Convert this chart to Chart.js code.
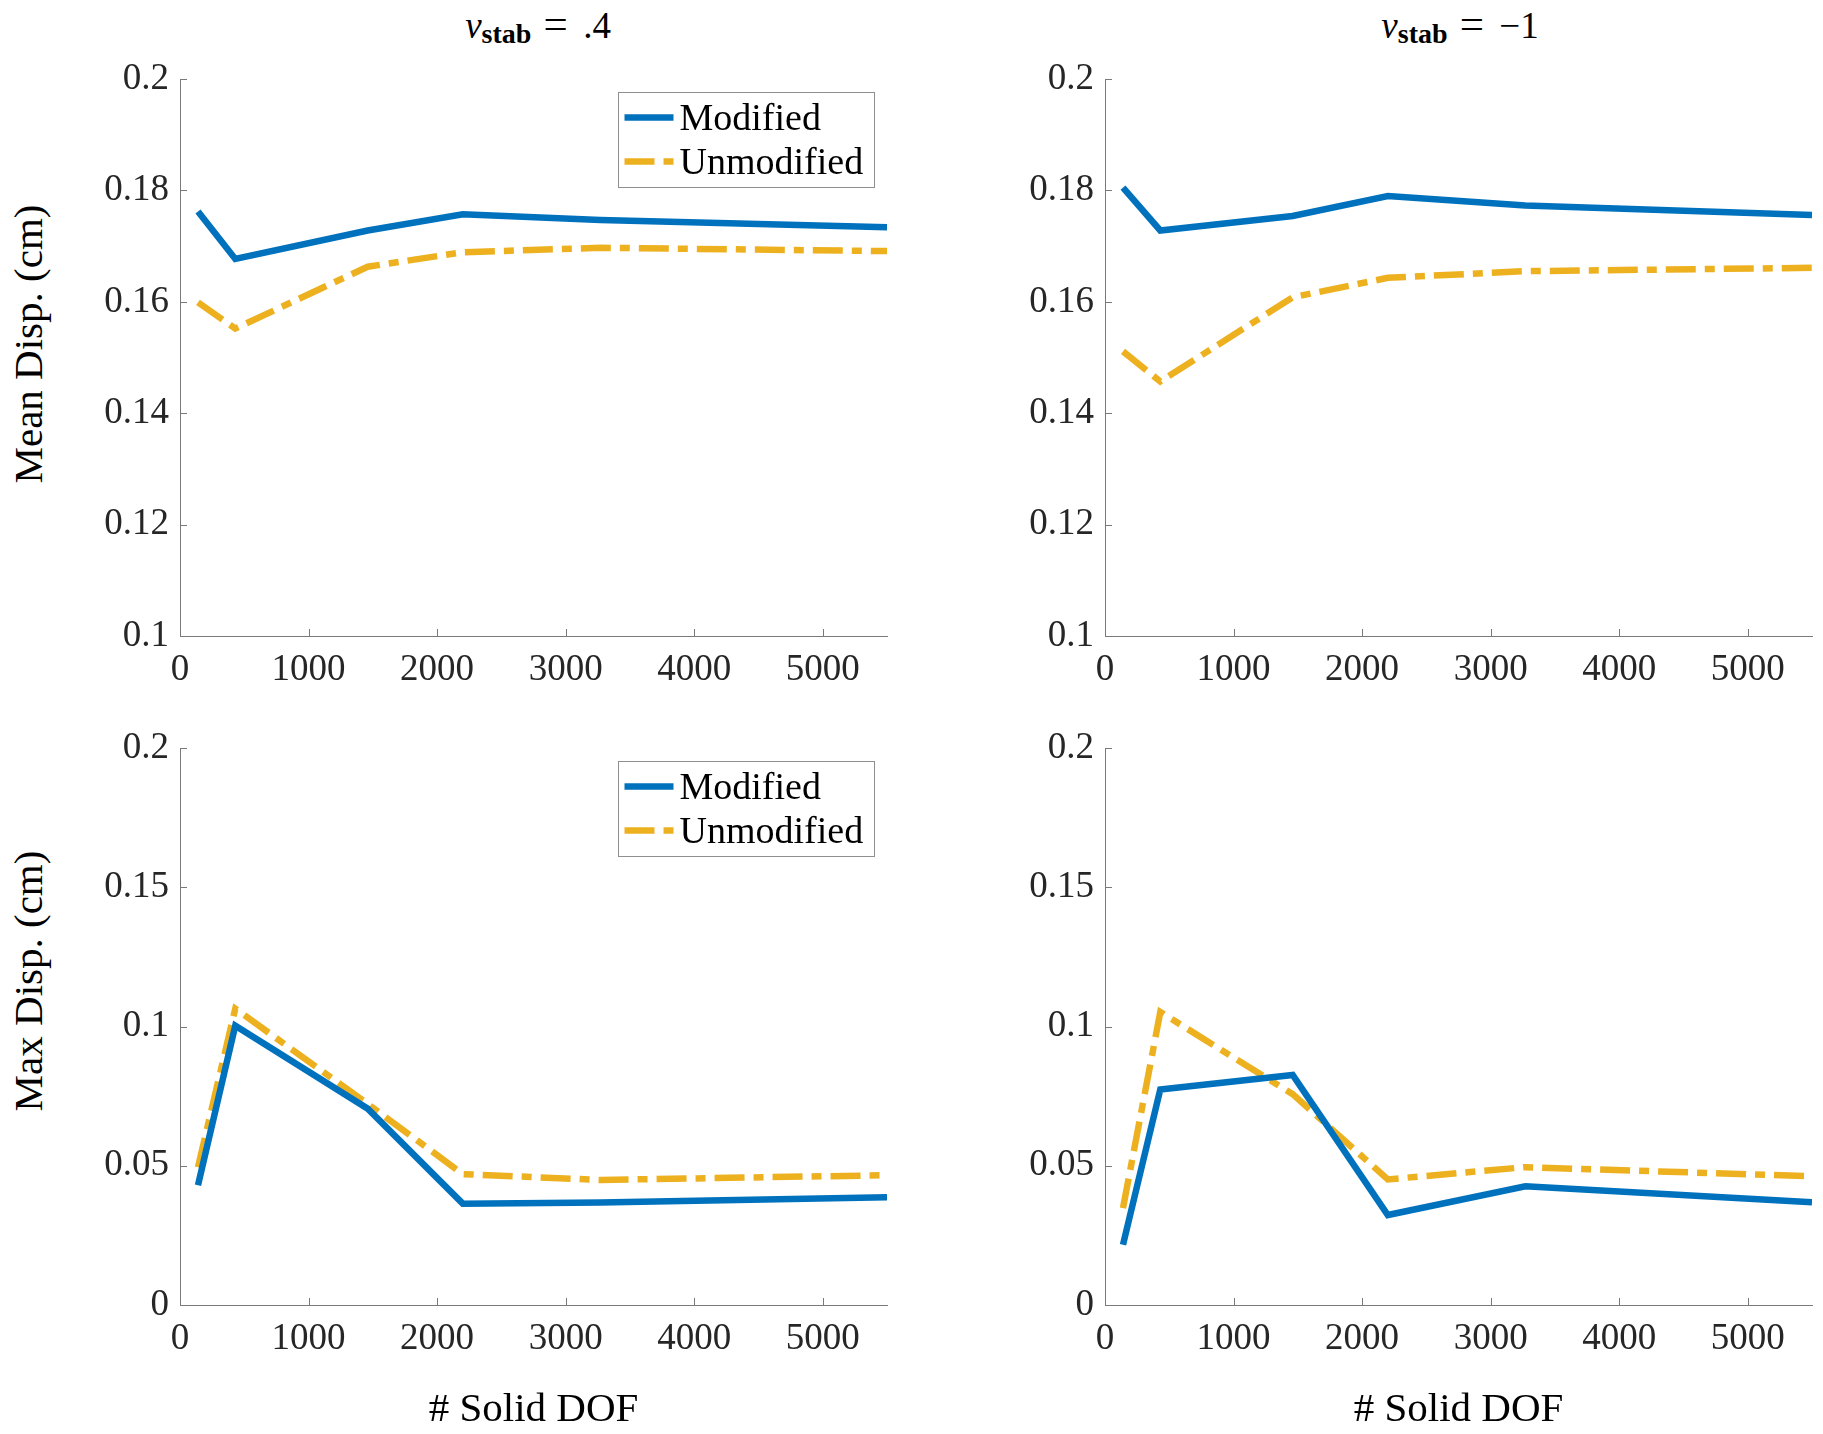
<!DOCTYPE html>
<html>
<head>
<meta charset="utf-8">
<script src="https://cdn.jsdelivr.net/npm/chart.js@4.4.1/dist/chart.umd.min.js"></script>
<style>
  body { margin: 0; background: #fff; width: 1823px; height: 1434px; position: relative; overflow: hidden;
         font-family: 'Liberation Serif', 'Times New Roman', serif; }
  .panel { position: absolute; }
  .title { position: absolute; top: 4px; font-size: 37px; line-height: 40px; color: #000;
           white-space: nowrap; transform: translateX(-50%); }
  .title sub { font-size: 28px; font-weight: bold; vertical-align: -5px; line-height: 0; }
  .title .eq { font-size: 43px; margin: 0 6px 0 3px; }
  .ylab { position: absolute; left: 28px; font-size: 41px; line-height: 41px; color: #000;
          white-space: nowrap; transform: translate(-50%, -50%) rotate(-90deg); }
</style>
</head>
<body>
<div class="title" style="left:538px"><i>ν</i><sub>stab</sub> <span class="eq">=</span> .4</div>
<div class="title" style="left:1460px"><i>ν</i><sub>stab</sub> <span class="eq">=</span> −1</div>
<div class="ylab" style="top:344px">Mean Disp. (cm)</div>
<div class="ylab" style="top:981px">Max Disp. (cm)</div>

<div class="panel" style="left:0;top:0;width:912px;height:700px"><canvas id="c1"></canvas></div>
<div class="panel" style="left:912px;top:0;width:911px;height:700px"><canvas id="c2"></canvas></div>
<div class="panel" style="left:0;top:700px;width:912px;height:734px"><canvas id="c3"></canvas></div>
<div class="panel" style="left:912px;top:700px;width:911px;height:734px"><canvas id="c4"></canvas></div>

<script>
// x positions (# solid DOF)
const solidDof = [140, 430, 1460, 2200, 3270, 5500];
const xTicks = [0, 1000, 2000, 3000, 4000, 5000];
const meanTicks = [0.1, 0.12, 0.14, 0.16, 0.18, 0.2];
const maxTicks = [0, 0.05, 0.1, 0.15, 0.2];

// nu_stab = .4
const meanModA = [0.1762, 0.1677, 0.1728, 0.1757, 0.1747, 0.1734];
const meanUnmodA = [0.1599, 0.1552, 0.1663, 0.1689, 0.1697, 0.1691];
const maxModA = [0.0430, 0.1003, 0.0705, 0.0364, 0.0368, 0.0387];
const maxUnmodA = [0.0495, 0.1064, 0.0722, 0.0470, 0.0449, 0.0466];

// nu_stab = -1
const meanModB = [0.1805, 0.1728, 0.1754, 0.1790, 0.1773, 0.1756];
const meanUnmodB = [0.1511, 0.1457, 0.1608, 0.1643, 0.1655, 0.1661];
const maxModB = [0.0216, 0.0774, 0.0826, 0.0323, 0.0426, 0.0369];
const maxUnmodB = [0.0348, 0.1052, 0.0757, 0.0451, 0.0495, 0.0462];

const seriesNames = ['Modified', 'Unmodified'];

const BLUE = '#0072BD';
const YELLOW = '#EDB120';
const AXIS = '#7a7a7a';
const TICKTXT = '#262626';
const FONT = "'Liberation Serif', 'Times New Roman', serif";
const DASHDOT = [30, 9, 10, 9];

// inward ticks + boxed legend, drawn the way MATLAB does
const matlabAxes = {
  id: 'matlabAxes',
  afterDraw(chart) {
    const ctx = chart.ctx;
    const a = chart.chartArea;
    const xs = chart.scales.x, ys = chart.scales.y;
    ctx.save();
    ctx.strokeStyle = AXIS;
    ctx.lineWidth = 1;
    xs.ticks.forEach(t => {
      const px = Math.round(xs.getPixelForValue(t.value)) + 0.5;
      ctx.beginPath(); ctx.moveTo(px, a.bottom); ctx.lineTo(px, a.bottom - 7); ctx.stroke();
    });
    ys.ticks.forEach(t => {
      const py = Math.round(ys.getPixelForValue(t.value)) + 0.5;
      ctx.beginPath(); ctx.moveTo(a.left, py); ctx.lineTo(a.left + 7, py); ctx.stroke();
    });

    if (chart.options.plugins.matlabAxes.legend) {
      const w = 256, h = 95;
      const lx = Math.round(a.right - 13 - w) + 0.5;
      const ly = Math.round(a.top + 13) + 0.5;
      ctx.fillStyle = '#fff';
      ctx.fillRect(lx, ly, w, h);
      ctx.strokeStyle = '#8f8f8f';
      ctx.strokeRect(lx, ly, w, h);
      const baselines = [37.5, 81.5];
      chart.data.datasets.forEach((ds, i) => {
        const yMid = ly + baselines[i] - 12.5;
        ctx.save();
        ctx.strokeStyle = ds.borderColor;
        ctx.lineWidth = ds.borderWidth;
        ctx.setLineDash(ds.borderDash || []);
        ctx.beginPath(); ctx.moveTo(lx + 6, yMid); ctx.lineTo(lx + 55, yMid); ctx.stroke();
        ctx.restore();
        ctx.fillStyle = '#000';
        ctx.font = '38px ' + FONT;
        ctx.textBaseline = 'alphabetic';
        ctx.fillText(ds.label, lx + 61, ly + baselines[i]);
      });
    }
    ctx.restore();
  }
};

function toPoints(vals) {
  return solidDof.map((x, i) => ({ x: x, y: vals[i] }));
}

function makePanel(canvasId, cfg) {
  return new Chart(document.getElementById(canvasId), {
    type: 'line',
    data: {
      datasets: [{
        label: seriesNames[0],
        data: toPoints(cfg.mod),
        borderColor: BLUE,
        borderWidth: 6.5,
        pointRadius: 0,
        tension: 0,
        clip: 0
      }, {
        label: seriesNames[1],
        data: toPoints(cfg.unmod),
        borderColor: YELLOW,
        borderWidth: 6.5,
        borderDash: DASHDOT,
        pointRadius: 0,
        tension: 0,
        clip: 0
      }]
    },
    options: {
      responsive: true,
      maintainAspectRatio: false,
      animation: false,
      events: [],
      layout: { padding: { top: cfg.padTop, right: cfg.padRight, left: 0, bottom: 0 } },
      plugins: {
        legend: { display: false },
        tooltip: { enabled: false },
        matlabAxes: { legend: cfg.legend }
      },
      scales: {
        x: {
          type: 'linear',
          min: 0,
          max: 5500,
          afterBuildTicks: s => { s.ticks = xTicks.map(v => ({ value: v })); },
          afterFit: s => { s.height = cfg.xHeight; },
          grid: { display: true, drawOnChartArea: false, drawTicks: false },
          border: { display: true, color: AXIS, width: 1 },
          ticks: {
            color: TICKTXT, padding: 12, maxRotation: 0, autoSkip: false,
            font: { family: FONT, size: 37 },
            callback: v => String(v)
          },
          title: {
            display: !!cfg.xTitle, text: cfg.xTitle || '', color: '#000',
            font: { family: FONT, size: 41, lineHeight: 1 },
            padding: { top: 0, bottom: 3.5 }
          }
        },
        y: {
          min: cfg.yMin,
          max: cfg.yMax,
          afterBuildTicks: s => { s.ticks = cfg.yTicks.map(v => ({ value: v })); },
          afterFit: s => { s.width = cfg.yWidth; },
          grid: { display: true, drawOnChartArea: false, drawTicks: false },
          border: { display: true, color: AXIS, width: 1 },
          ticks: {
            color: TICKTXT, padding: 11, autoSkip: false,
            font: { family: FONT, size: 37 },
            callback: v => String(Number(v.toFixed(2)))
          }
        }
      }
    },
    plugins: [matlabAxes]
  });
}

const topRow = { padTop: 79, xHeight: 64, yMin: 0.1, yMax: 0.2, yTicks: meanTicks };
const bottomRow = { padTop: 48, xHeight: 129, yMin: 0, yMax: 0.2, yTicks: maxTicks, xTitle: '# Solid DOF' };

makePanel('c1', Object.assign({}, topRow, { yWidth: 180, padRight: 25,
  mod: meanModA, unmod: meanUnmodA, legend: true }));
makePanel('c2', Object.assign({}, topRow, { yWidth: 193, padRight: 11,
  mod: meanModB, unmod: meanUnmodB, legend: false }));
makePanel('c3', Object.assign({}, bottomRow, { yWidth: 180, padRight: 25,
  mod: maxModA, unmod: maxUnmodA, legend: true }));
makePanel('c4', Object.assign({}, bottomRow, { yWidth: 193, padRight: 11,
  mod: maxModB, unmod: maxUnmodB, legend: false }));
</script>
</body>
</html>
